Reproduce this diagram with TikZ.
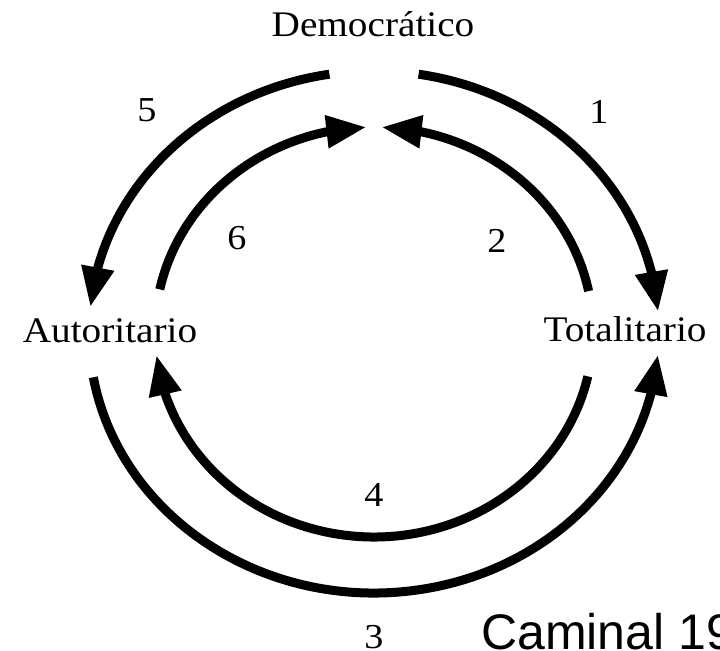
\documentclass[tikz,border=0pt]{standalone}
\usepackage{fontspec}
\setmainfont{Liberation Serif}[FakeStretch=1.09]
\newfontfamily\arialfont{Liberation Sans}
\usetikzlibrary{arrows.meta,bending}
\tikzset{
  lbl/.style={inner sep=0pt,font=\fontsize{36bp}{40bp}\selectfont},
  num/.style={inner sep=0pt,font=\fontsize{35bp}{40bp}\selectfont},
  flow/.style={line width=9bp,-{Triangle[length=40bp,width=31bp,flex]}},
}
\begin{document}
\begin{tikzpicture}[x=1bp,y=1bp]
\useasboundingbox (0,0) rectangle (720,651);
\fill[white] (0,0) rectangle (720,651);
\coordinate (c) at (374,319);
% state labels
\node[lbl,anchor=base] (dem) at (373,614) {Democrático};
\node[lbl,anchor=base] (aut) at (110,308) {Autoritario};
\node[lbl,anchor=base] (tot) at (625,309) {Totalitario};
% number labels
\node[num] (n5) at (147,541) {5};
\node[num] (n1) at (599,539) {1};
\node[num] (n6) at (237,413) {6};
\node[num] (n2) at (497,410) {2};
\node[num] (n4) at (374,156) {4};
\node[num] (n3) at (374,14) {3};
% outer arcs
\draw[flow] ([shift={(99:285bp and 261bp)}]c) arc[start angle=99,end angle=174.5,x radius=285bp,y radius=261bp];
\draw[flow] ([shift={(81:285bp and 261bp)}]c) arc[start angle=81,end angle=4.5,x radius=285bp,y radius=261bp];
\draw[flow] ([shift={(190:285bp and 261bp)}]c) arc[start angle=190,end angle=355,x radius=285bp,y radius=261bp];
% inner arcs
\draw[flow] ([shift={(168:219bp and 205bp)}]c) arc[start angle=168,end angle=92,x radius=219bp,y radius=205bp];
\draw[flow] ([shift={(11.5:219bp and 205bp)}]c) arc[start angle=11.5,end angle=88,x radius=219bp,y radius=205bp];
\draw[flow] ([shift={(-12.5:219bp and 205bp)}]c) arc[start angle=-12.5,end angle=-173.5,x radius=219bp,y radius=205bp];
% source
\node[inner sep=0pt,anchor=base west,font=\arialfont\fontsize{50bp}{56bp}\selectfont] (src) at (481,1) {Caminal 19};
\end{tikzpicture}
\end{document}
